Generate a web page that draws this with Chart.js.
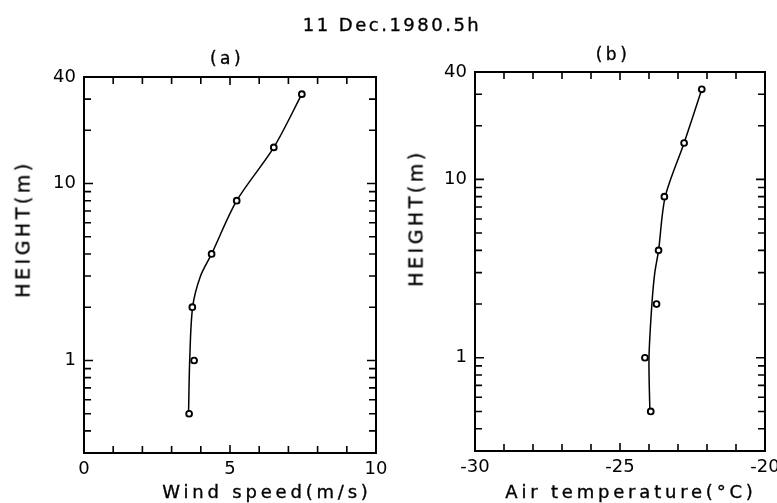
<!DOCTYPE html>
<html>
<head>
<meta charset="utf-8">
<script src="https://cdn.jsdelivr.net/npm/chart.js@4"></script>
<style>
  html, body { margin: 0; padding: 0; background: #fff; }
  body { width: 777px; height: 503px; position: relative; overflow: hidden; font-family: "DejaVu Sans", sans-serif; color: #000; }
  canvas { position: absolute; top: 0; }
  #chartA { left: 0; }
  #chartB { left: 389px; }
  .lbl { position: absolute; white-space: nowrap; transform: translate(-50%, -50%); line-height: 1; -webkit-text-stroke: 0.35px #000; }
  .yt { transform: translate(-50%, -50%) rotate(-90deg); }
</style>
</head>
<body>
<canvas id="chartA" width="389" height="503"></canvas>
<canvas id="chartB" width="388" height="503"></canvas>

<div class="lbl" style="left:392px;top:25px;font-size:18px;letter-spacing:2.5px">11 Dec.1980.5h</div>
<div class="lbl" style="left:227px;top:58px;font-size:17px;letter-spacing:3.5px">(a)</div>
<div class="lbl" style="left:613px;top:54px;font-size:17px;letter-spacing:3.5px">(b)</div>
<div class="lbl yt" style="left:23px;top:229px;font-size:19px;letter-spacing:3.5px">HEIGHT(m)</div>
<div class="lbl yt" style="left:416px;top:218px;font-size:19px;letter-spacing:3.5px">HEIGHT(m)</div>
<div class="lbl" style="left:267px;top:492px;font-size:18px;letter-spacing:3.8px">Wind speed(m/s)</div>
<div class="lbl" style="left:631px;top:492px;font-size:18px;letter-spacing:3.8px">Air temperature(°C)</div>

<script>
// measured levels (m)
var heights = [0.5, 1, 2, 4, 8, 16, 32];
var windSpeed = [3.6, 3.77, 3.71, 4.37, 5.23, 6.5, 7.46];
var airTemp = [-23.94, -24.14, -23.74, -23.67, -23.47, -22.79, -22.18];

// fitted profiles
var curveHeights = [0.5, 1, 2, 3, 4, 8, 16, 32];
var windCurve = [3.58, 3.62, 3.72, 3.99, 4.37, 5.23, 6.5, 7.46];
var tempCurve = [-23.97, -24.0, -23.9, -23.8, -23.67, -23.44, -22.79, -22.18];

// axes
var heightTicks = [0.3, 0.4, 0.5, 0.6, 0.7, 0.8, 0.9, 1, 2, 3, 4, 5, 6, 7, 8, 9, 10, 20, 30, 40];
var heightLabels = [1, 10, 40];
var windTicks = [0, 1, 2, 3, 4, 5, 6, 7, 8, 9, 10];
var windLabels = [0, 5, 10];
var tempTicks = [-30, -29, -28, -27, -26, -25, -24, -23, -22, -21, -20];
var tempLabels = [-30, -25, -20];

var FONT = { family: "DejaVu Sans", size: 18 };

// box frame with inward tick marks on all four sides
var frameTicks = {
  id: "frameTicks",
  afterDraw: function (chart) {
    var ctx = chart.ctx, a = chart.chartArea, sx = chart.scales.x, sy = chart.scales.y;
    ctx.save();
    ctx.strokeStyle = "#000";
    ctx.lineWidth = 2;
    ctx.strokeRect(a.left, a.top, a.right - a.left, a.bottom - a.top);
    ctx.lineWidth = 1.6;
    ctx.beginPath();
    sx.ticks.forEach(function (t) {
      var px = sx.getPixelForValue(t.value);
      var len = t.label ? 8 : 7;
      ctx.moveTo(px, a.bottom); ctx.lineTo(px, a.bottom - len);
      ctx.moveTo(px, a.top); ctx.lineTo(px, a.top + len);
    });
    sy.ticks.forEach(function (t) {
      var py = sy.getPixelForValue(t.value);
      var len = t.label ? 9 : 7;
      ctx.moveTo(a.left, py); ctx.lineTo(a.left + len, py);
      ctx.moveTo(a.right, py); ctx.lineTo(a.right - len, py);
    });
    ctx.stroke();
    ctx.restore();
  }
};

function pairs(xs, ys) {
  return xs.map(function (x, i) { return { x: x, y: ys[i] }; });
}

function makePanel(id, xVals, curveVals, xMin, xMax, xTicks, xLabels, box) {
  return new Chart(document.getElementById(id), {
    type: "scatter",
    data: {
      datasets: [
        {
          data: pairs(xVals, heights),
          pointRadius: 2.9,
          pointBackgroundColor: "#fff",
          pointBorderColor: "#000",
          pointBorderWidth: 1.9,
          order: 0
        },
        {
          data: pairs(curveVals, curveHeights),
          showLine: true,
          pointRadius: 0,
          borderColor: "#000",
          borderWidth: 1.5,
          tension: 0.3,
          order: 1
        }
      ]
    },
    options: {
      responsive: false,
      animation: false,
      devicePixelRatio: 1,
      layout: { padding: { top: box.top, right: box.right, left: 0, bottom: 0 } },
      plugins: { legend: { display: false }, tooltip: { enabled: false } },
      scales: {
        x: {
          type: "linear",
          min: xMin,
          max: xMax,
          afterBuildTicks: function (s) { s.ticks = xTicks.map(function (v) { return { value: v }; }); },
          afterFit: function (s) { s.height = box.xh; s.paddingLeft = 0; s.paddingRight = 0; },
          grid: { display: false, drawTicks: false },
          border: { display: false },
          ticks: {
            autoSkip: false, maxRotation: 0, padding: 6, color: "#000", font: FONT,
            callback: function (v) { return xLabels.indexOf(v) >= 0 ? String(v) : ""; }
          }
        },
        y: {
          type: "logarithmic",
          min: 0.3,
          max: 40,
          afterBuildTicks: function (s) { s.ticks = heightTicks.map(function (v) { return { value: v }; }); },
          afterFit: function (s) { s.width = box.yw; s.paddingTop = 0; s.paddingBottom = 0; },
          grid: { display: false, drawTicks: false },
          border: { display: false },
          ticks: {
            autoSkip: false, padding: 8, color: "#000", font: FONT,
            callback: function (v) { return heightLabels.indexOf(v) >= 0 ? String(v) : ""; }
          }
        }
      }
    },
    plugins: [frameTicks]
  });
}

makePanel("chartA", windSpeed, windCurve, 0, 10, windTicks, windLabels, { top: 77, right: 13, xh: 50, yw: 84 });
makePanel("chartB", airTemp, tempCurve, -30, -20, tempTicks, tempLabels, { top: 72, right: 12, xh: 52, yw: 86 });
</script>
</body>
</html>
